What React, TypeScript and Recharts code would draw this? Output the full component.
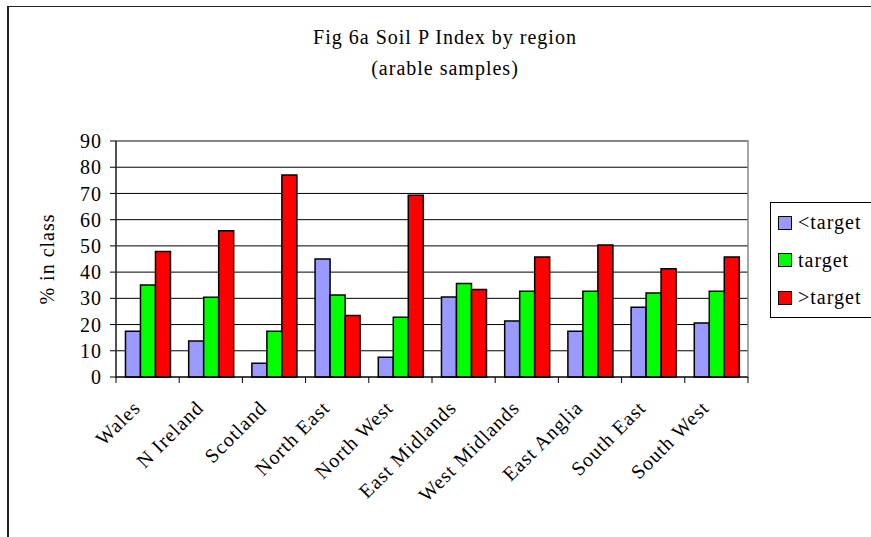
import React from 'react';
import { BarChart, Bar, XAxis, YAxis, CartesianGrid, Legend, ReferenceArea } from 'recharts';

const regions = ['Wales', 'N Ireland', 'Scotland', 'North East', 'North West', 'East Midlands', 'West Midlands', 'East Anglia', 'South East', 'South West'];
const belowTarget = [17.4, 13.7, 5.2, 45.0, 7.5, 30.5, 21.4, 17.4, 26.6, 20.6];
const atTarget = [35.1, 30.4, 17.4, 31.3, 22.8, 35.7, 32.7, 32.7, 32.0, 32.7];
const aboveTarget = [47.9, 55.8, 77.0, 23.5, 69.3, 33.4, 45.8, 50.3, 41.3, 45.8];
const yTicks = [0, 10, 20, 30, 40, 50, 60, 70, 80, 90];
const seriesKeys = ['below', 'at', 'above'];
const seriesNames = ['<target', 'target', '>target'];
const seriesColors = ['#9999FF', '#00FF00', '#FF0000'];
const titleLine1 = 'Fig 6a Soil P Index by region';
const titleLine2 = '(arable samples)';
const yAxisTitle = '% in class';

const data = regions.map((r, i) => ({
  region: r,
  below: belowTarget[i],
  at: atTarget[i],
  above: aboveTarget[i],
}));

const FONT = "'Liberation Serif', 'Times New Roman', serif";
const FS = 20;
const LS = 1;

const XTick = (props: any) => {
  const { x, y, payload, index, visibleTicksCount } = props;
  const half = payload && payload.offset ? payload.offset : 31.6;
  const axisY = y - 8;
  const px = x - 6;
  const py = axisY + 32;
  return (
    <g>
      <line x1={x - half} x2={x - half} y1={axisY} y2={axisY + 6} stroke="#000" />
      {index === visibleTicksCount - 1 && (
        <line x1={x + half} x2={x + half} y1={axisY} y2={axisY + 6} stroke="#000" />
      )}
      <text
        x={px}
        y={py}
        transform={`rotate(-45, ${px}, ${py})`}
        textAnchor="end"
        fontFamily={FONT}
        fontSize={FS}
        letterSpacing={LS}
        fill="#000"
      >
        {payload.value}
      </text>
    </g>
  );
};

const YLabel = (props: any) => {
  const vb = props.viewBox || { x: 0, y: 141, width: 116, height: 236 };
  const cx = vb.x + 54;
  const cy = vb.y + vb.height / 2;
  return (
    <text
      x={cx}
      y={cy}
      transform={`rotate(-90, ${cx}, ${cy})`}
      textAnchor="middle"
      fontFamily={FONT}
      fontSize={FS}
      letterSpacing={LS}
      fill="#000"
    >
      {yAxisTitle}
    </text>
  );
};

const LegendBox = () => (
  <div
    style={{
      border: '1px solid #000',
      boxSizing: 'border-box',
      width: 120,
      height: 116,
      background: '#fff',
      paddingTop: 1,
      fontFamily: FONT,
      fontSize: FS,
      letterSpacing: LS,
      color: '#000',
    }}
  >
    {seriesNames.map((n, i) => (
      <div key={n} style={{ display: 'flex', alignItems: 'center', height: 37.5 }}>
        <span
          style={{
            display: 'inline-block',
            width: 12,
            height: 12,
            background: seriesColors[i],
            border: '1.5px solid #000',
            marginLeft: 7,
            marginRight: 6,
          }}
        />
        <span>{n}</span>
      </div>
    ))}
  </div>
);

export default function App() {
  const titleStyle: React.CSSProperties = {
    position: 'absolute',
    left: 0,
    width: 890,
    textAlign: 'center',
    fontFamily: FONT,
    fontSize: FS,
    letterSpacing: LS,
    lineHeight: '22px',
    color: '#000',
  };
  return (
    <div style={{ position: 'absolute', left: 0, top: 0, width: 871, height: 537, overflow: 'hidden', background: '#fff' }}>
      <div style={{ position: 'absolute', left: 7, top: 6, width: 1000, height: 1000, borderLeft: '2px solid #222', borderTop: '1.5px solid #222' }} />
      <div style={{ ...titleStyle, top: 26 }}>{titleLine1}</div>
      <div style={{ ...titleStyle, top: 57 }}>{titleLine2}</div>
      <div style={{ position: 'absolute', left: 0, top: 0 }}>
        <BarChart
          width={871}
          height={537}
          data={data}
          margin={{ top: 141, right: 123, bottom: 60, left: 0 }}
          barCategoryGap="15%"
          barGap={0}
        >
          <CartesianGrid horizontal vertical={false} stroke="#000" strokeOpacity={1} />
          <ReferenceArea y1={0} y2={90} fill="none" stroke="#888" strokeWidth={1.5} ifOverflow="visible" />
          <XAxis
            dataKey="region"
            height={100}
            interval={0}
            tickLine={false}
            tickSize={6}
            tickMargin={2}
            axisLine={{ stroke: '#000' }}
            tick={<XTick />}
          />
          <YAxis
            width={116}
            domain={[0, 90]}
            ticks={yTicks}
            interval={0}
            tickSize={6}
            tickMargin={8}
            axisLine={{ stroke: '#000' }}
            tickLine={{ stroke: '#000' }}
            tick={{ fill: '#000', fontFamily: FONT, fontSize: FS, letterSpacing: LS }}
            label={<YLabel />}
          />
          <Legend
            layout="horizontal"
            verticalAlign="middle"
            align="center"
            content={<LegendBox />}
            wrapperStyle={{ left: 770, top: 202, width: 120, height: 116 }}
          />
          {seriesKeys.map((k, i) => (
            <Bar
              key={k}
              dataKey={k}
              name={seriesNames[i]}
              fill={seriesColors[i]}
              stroke="#000"
              strokeWidth={1.5}
              isAnimationActive={false}
            />
          ))}
        </BarChart>
      </div>
    </div>
  );
}
